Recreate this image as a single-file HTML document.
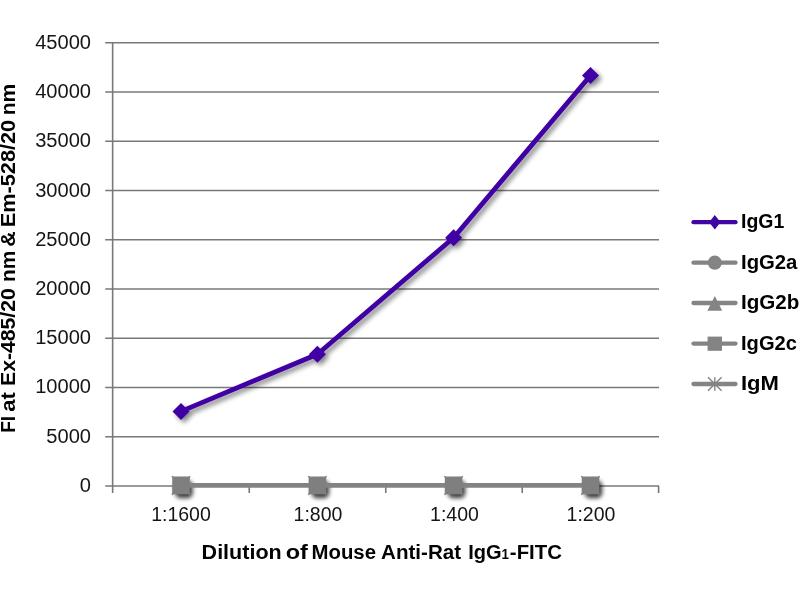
<!DOCTYPE html>
<html>
<head>
<meta charset="utf-8">
<title>Chart</title>
<style>
html,body{margin:0;padding:0;background:#fff;}
body{width:800px;height:600px;overflow:hidden;font-family:"Liberation Sans",sans-serif;}
svg{display:block;}
text{font-family:"Liberation Sans",sans-serif;}
.yl{font-size:19.5px;fill:#151515;text-anchor:end;}
.xl{font-size:19.5px;fill:#151515;text-anchor:middle;}
.lg{font-size:20.8px;font-weight:bold;fill:#000;}
.ti{font-size:20.7px;font-weight:bold;fill:#000;}
</style>
</head>
<body>
<svg width="800" height="600" viewBox="0 0 800 600">
<defs>
<filter id="sh" filterUnits="userSpaceOnUse" x="0" y="0" width="800" height="600">
<feGaussianBlur in="SourceAlpha" stdDeviation="2.4"/>
<feOffset dx="2.8" dy="3.2" result="b"/>
<feComponentTransfer><feFuncA type="linear" slope="0.48"/></feComponentTransfer>
<feMerge><feMergeNode/><feMergeNode in="SourceGraphic"/></feMerge>
</filter>
<filter id="sh2" filterUnits="userSpaceOnUse" x="0" y="0" width="800" height="600">
<feGaussianBlur in="SourceAlpha" stdDeviation="2.1"/>
<feOffset dx="3.4" dy="4.2"/>
<feComponentTransfer><feFuncA type="linear" slope="0.75"/></feComponentTransfer>
</filter>
</defs>
<rect width="800" height="600" fill="#fff"/>
<!-- gridlines and axes -->
<g stroke="#787878" stroke-width="1.6" fill="none">
<line x1="105.2" x2="659" y1="42.75" y2="42.75"/>
<line x1="105.2" x2="659" y1="92.00" y2="92.00"/>
<line x1="105.2" x2="659" y1="141.25" y2="141.25"/>
<line x1="105.2" x2="659" y1="190.50" y2="190.50"/>
<line x1="105.2" x2="659" y1="239.75" y2="239.75"/>
<line x1="105.2" x2="659" y1="289.00" y2="289.00"/>
<line x1="105.2" x2="659" y1="338.25" y2="338.25"/>
<line x1="105.2" x2="659" y1="387.50" y2="387.50"/>
<line x1="105.2" x2="659" y1="436.75" y2="436.75"/>
<line x1="105.2" x2="659" y1="486.00" y2="486.00"/>
<line x1="112.65" x2="112.65" y1="42" y2="493"/>
<line x1="249.25" x2="249.25" y1="486" y2="493"/>
<line x1="385.75" x2="385.75" y1="486" y2="493"/>
<line x1="522.25" x2="522.25" y1="486" y2="493"/>
<line x1="658.6" x2="658.6" y1="486" y2="493"/>
</g>
<!-- y labels -->
<g class="yl" opacity="0.995">
<text transform="translate(91,49.0) scale(1.03,1)">45000</text>
<text transform="translate(91,98.2) scale(1.03,1)">40000</text>
<text transform="translate(91,147.4) scale(1.03,1)">35000</text>
<text transform="translate(91,196.6) scale(1.03,1)">30000</text>
<text transform="translate(91,245.8) scale(1.03,1)">25000</text>
<text transform="translate(91,295.0) scale(1.03,1)">20000</text>
<text transform="translate(91,344.2) scale(1.03,1)">15000</text>
<text transform="translate(91,393.4) scale(1.03,1)">10000</text>
<text transform="translate(91,442.6) scale(1.03,1)">5000</text>
<text transform="translate(91,491.8) scale(1.03,1)">0</text>
</g>
<!-- x labels -->
<g class="xl" opacity="0.995">
<text x="181" y="520.5">1:1600</text>
<text x="318" y="520.5">1:800</text>
<text x="454.5" y="520.5">1:400</text>
<text x="591" y="520.5">1:200</text>
</g>
<!-- series IgG1 -->
<g filter="url(#sh)">
<polyline points="181,411.4 317.4,354.2 453.6,237.7 590.5,75.5" fill="none" stroke="#3f06a3" stroke-width="4.8" stroke-linejoin="round" stroke-linecap="round"/>
<g fill="#3f06a3">
<path d="M181,402.9 l8.5,8.5 -8.5,8.5 -8.5,-8.5z"/>
<path d="M317.4,345.7 l8.5,8.5 -8.5,8.5 -8.5,-8.5z"/>
<path d="M453.6,229.2 l8.5,8.5 -8.5,8.5 -8.5,-8.5z"/>
<path d="M590.5,67 l8.5,8.5 -8.5,8.5 -8.5,-8.5z"/>
</g>
</g>
<!-- grey series at zero -->
<g filter="url(#sh2)" fill="#000">
<rect x="172.2" y="476.5" width="17.6" height="17.8" rx="5.5"/>
<rect x="308.6" y="476.5" width="17.6" height="17.8" rx="5.5"/>
<rect x="444.8" y="476.5" width="17.6" height="17.8" rx="5.5"/>
<rect x="581.7" y="476.5" width="17.6" height="17.8" rx="5.5"/>
</g>
<polyline points="181,485.4 590.5,485.4" fill="none" stroke="#838383" stroke-width="4.7" stroke-linecap="butt"/>
<g fill="#7f7f7f" stroke="#7f7f7f" stroke-width="1.3">
<path d="M171.8,476.1 L190.2,494.7 M190.2,476.1 L171.8,494.7" fill="none"/>
<path d="M308.2,476.1 L326.6,494.7 M326.6,476.1 L308.2,494.7" fill="none"/>
<path d="M444.4,476.1 L462.8,494.7 M462.8,476.1 L444.4,494.7" fill="none"/>
<path d="M581.3,476.1 L599.7,494.7 M599.7,476.1 L581.3,494.7" fill="none"/>
<rect x="172.2" y="476.5" width="17.6" height="17.8" stroke="none"/>
<rect x="308.6" y="476.5" width="17.6" height="17.8" stroke="none"/>
<rect x="444.8" y="476.5" width="17.6" height="17.8" stroke="none"/>
<rect x="581.7" y="476.5" width="17.6" height="17.8" stroke="none"/>
</g>
<!-- legend -->
<g stroke-linecap="round" stroke-width="4.3" fill="none">
<line x1="693.5" x2="735.5" y1="222.2" y2="222.2" stroke="#3f06a3"/>
<line x1="693.5" x2="735.5" y1="262.7" y2="262.7" stroke="#848484"/>
<line x1="693.5" x2="735.5" y1="303" y2="303" stroke="#848484"/>
<line x1="693.5" x2="735.5" y1="343.6" y2="343.6" stroke="#848484"/>
<line x1="693.5" x2="735.5" y1="384" y2="384" stroke="#848484"/>
</g>
<path d="M714.8,214.9 l5.7,7.3 -5.7,7.3 -5.7,-7.3z" fill="#3f06a3"/>
<circle cx="714.8" cy="262.7" r="7.1" fill="#848484"/>
<path d="M714.8,295.9 l7.4,14.8 h-14.8z" fill="#848484"/>
<rect x="707.6" y="336.6" width="14.4" height="14.2" fill="#848484"/>
<g stroke="#848484" stroke-width="1.4" fill="none">
<line x1="714.8" x2="714.8" y1="377.2" y2="390.8"/>
<line x1="708" x2="721.6" y1="377.2" y2="390.8"/>
<line x1="721.6" x2="708" y1="377.2" y2="390.8"/>
</g>
<g class="lg" opacity="0.995">
<text transform="translate(741,228.2) scale(0.937,1)">IgG1</text>
<text transform="translate(741,268.7) scale(0.976,1)">IgG2a</text>
<text transform="translate(741,309.0) scale(0.99,1)">IgG2b</text>
<text transform="translate(741,349.6) scale(0.968,1)">IgG2c</text>
<text transform="translate(741,390.0) scale(1.06,1)">IgM</text>
</g>
<!-- titles -->
<g class="ti" opacity="0.995">
<text transform="translate(201.60,559) scale(1.0404,1)">Dilution</text>
<text transform="translate(285.70,559) scale(1.1334,1)">of</text>
<text transform="translate(311.55,559) scale(0.9842,1)">Mouse</text>
<text transform="translate(381.10,559) scale(0.9937,1)">Anti-Rat</text>
<text transform="translate(468.15,559) scale(0.9689,1)">IgG</text>
<text transform="translate(501.45,559) scale(0.8909,1)" font-size="15">1</text>
<text transform="translate(509.85,559) scale(0.9854,1)">-FITC</text>
<text transform="translate(15,432.75) rotate(-90) scale(0.9196,1)">FI</text>
<text transform="translate(15,411.75) rotate(-90) scale(1.0709,1)">at</text>
<text transform="translate(15,386.00) rotate(-90) scale(1.0242,1)">Ex-485/20</text>
<text transform="translate(15,282.00) rotate(-90) scale(1.0089,1)">nm</text>
<text transform="translate(15,246.80) rotate(-90) scale(1.0372,1)">&amp;</text>
<text transform="translate(15,227.30) rotate(-90) scale(1.0499,1)">Em-528/20</text>
<text transform="translate(15,115.25) rotate(-90) scale(1.0177,1)">nm</text>
</g>
</svg>
</body>
</html>
